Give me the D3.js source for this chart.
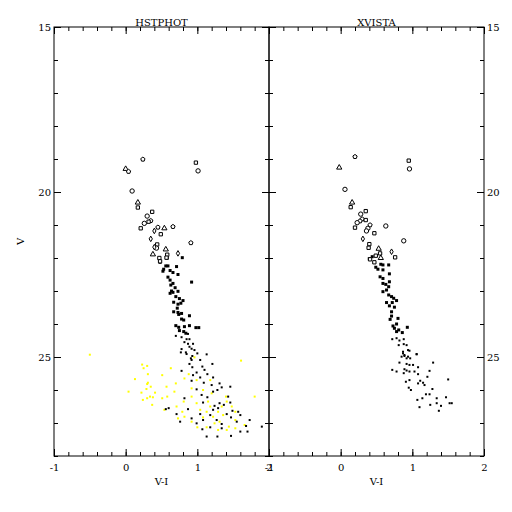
<!DOCTYPE html>
<html>
<head>
<meta charset="utf-8">
<script src="https://cdn.jsdelivr.net/npm/d3@7"></script>
<style>
  body { margin: 0; background: #fff; }
  text { font-family: "DejaVu Serif", "Liberation Serif", serif; font-size: 10px; fill: #000; }
</style>
</head>
<body>
<svg id="chart" width="512" height="512"></svg>
<script>
'use strict';

// panel titles and tick labels
const panelTitles = ['HSTPHOT', 'XVISTA'];
const xTicks = [-1, 0, 1, 2];
const yTicks = [15, 20, 25];

// HSTPHOT: bright stars with open symbols [V-I, V, symbol]
const hstOpen = [
  [0.24, 19.01, 'p'], [0.98, 19.11, 's'], [1.01, 19.36, 'o'], [0.0, 19.3, 't'], [0.04, 19.38, 'p'],
  [0.09, 19.97, 'o'], [0.17, 20.32, 't'], [0.17, 20.47, 's'], [0.37, 20.6, 's'], [0.30, 20.73, 'o'],
  [0.35, 20.87, 'p'], [0.26, 20.95, 'o'], [0.32, 20.9, 's'], [0.21, 21.1, 's'], [0.45, 21.07, 'p'],
  [0.54, 21.1, 't'], [0.66, 21.05, 'p'], [0.40, 21.18, 'd'], [0.49, 21.28, 's'], [0.35, 21.42, 'd'],
  [0.91, 21.54, 'p'], [0.44, 21.59, 's'], [0.43, 21.7, 'o'], [0.40, 21.67, 'd'], [0.56, 21.74, 't'],
  [0.73, 21.86, 'd'], [0.58, 21.9, 's'], [0.38, 21.89, 't'], [0.47, 22.0, 's'], [0.57, 21.99, 's'],
  [0.48, 22.1, 's']
];

// HSTPHOT: faint stars as dots [V-I, V]
const hstDots = [
  [0.79, 21.99], [0.58, 22.0], [0.48, 22.13], [0.59, 22.24], [0.56, 22.24], [0.71, 22.26],
  [0.53, 22.34], [0.52, 22.4], [0.62, 22.38], [0.66, 22.44], [0.73, 22.5], [0.59, 22.58],
  [0.62, 22.67], [0.92, 22.73], [0.66, 22.77], [0.63, 22.82], [0.69, 22.9], [0.64, 23.0],
  [0.66, 23.04], [0.73, 23.01], [0.62, 23.07], [0.70, 23.17], [0.75, 23.23], [0.80, 23.29],
  [0.67, 23.34], [0.73, 23.4], [0.77, 23.37], [0.72, 23.52], [0.67, 23.63], [0.73, 23.65],
  [0.78, 23.68], [0.74, 23.71], [0.89, 23.75], [0.78, 23.85], [0.81, 23.88], [0.70, 24.05],
  [0.74, 24.1], [0.82, 24.08], [0.89, 24.05], [0.98, 24.11], [1.02, 24.11], [0.75, 24.2],
  [0.81, 24.23], [0.84, 24.28], [0.87, 24.3], [0.70, 24.36], [0.78, 24.4], [0.85, 24.46],
  [0.89, 24.46], [0.82, 24.55], [0.94, 24.6], [0.87, 24.6], [0.89, 24.69], [0.92, 24.75],
  [0.96, 24.79], [0.84, 24.86], [0.77, 24.86], [1.0, 24.89], [1.13, 24.92], [0.93, 24.97],
  [0.91, 25.04], [0.78, 24.76], [0.85, 24.91], [0.92, 25.09], [1.04, 25.09], [0.89, 25.21],
  [1.07, 25.29], [0.93, 25.31], [1.21, 25.21], [1.1, 25.39], [0.78, 25.42], [0.99, 25.47],
  [1.14, 25.52], [0.94, 25.55], [1.22, 25.62], [1.04, 25.62], [0.92, 25.72], [1.09, 25.78],
  [1.2, 25.85], [1.31, 25.8], [1.34, 25.92], [1.46, 25.9], [0.99, 25.98], [1.22, 26.05],
  [1.28, 26.0], [1.06, 26.15], [1.14, 26.22], [1.43, 26.2], [0.82, 26.25], [1.08, 26.38],
  [1.31, 26.4], [1.37, 26.45], [1.46, 26.38], [1.24, 26.48], [0.56, 26.58], [0.6, 26.55],
  [0.87, 26.58], [1.22, 26.6], [1.29, 26.55], [1.49, 26.63], [1.57, 26.66], [0.71, 26.73],
  [1.04, 26.73], [1.18, 26.76], [1.41, 26.73], [1.6, 26.76], [1.47, 26.83], [0.92, 26.86],
  [1.08, 26.91], [1.27, 26.91], [1.73, 26.91], [0.76, 26.96], [1.55, 26.96], [0.99, 27.01],
  [1.34, 27.03], [1.68, 27.09], [1.18, 27.13], [1.9, 27.11], [1.07, 27.19], [1.34, 27.16],
  [1.6, 27.26], [1.7, 27.26], [1.13, 27.41], [1.28, 27.41], [1.47, 27.39]
];

// HSTPHOT: extra stars shown in yellow [V-I, V]
const hstYellow = [
  [-0.5, 24.93], [0.23, 25.23], [0.25, 25.34], [0.3, 25.27], [0.31, 25.52], [0.13, 25.67],
  [0.31, 25.78], [0.30, 25.82], [0.35, 25.9], [0.29, 25.97], [0.04, 26.05], [0.22, 26.08],
  [0.41, 26.08], [0.34, 26.2], [0.3, 26.25], [0.24, 26.3], [0.38, 26.22], [0.37, 26.45],
  [0.51, 25.55], [0.63, 25.34], [0.70, 25.8], [0.57, 25.9], [0.68, 26.05], [0.51, 26.25],
  [0.58, 26.2], [0.71, 26.5], [0.54, 26.6], [0.79, 26.66], [0.73, 26.86], [0.82, 26.81],
  [0.92, 26.96], [0.96, 25.01], [0.88, 25.52], [0.82, 25.65], [0.99, 25.7], [0.99, 26.4],
  [1.04, 26.6], [1.15, 26.35], [1.18, 26.5], [1.13, 26.66], [1.08, 26.83], [1.22, 26.81],
  [1.29, 26.66], [1.34, 26.5], [1.41, 26.35], [1.48, 26.5], [1.53, 26.66], [1.53, 26.91],
  [1.36, 26.76], [1.24, 27.01], [1.31, 26.96], [1.44, 27.11], [1.0, 27.13], [1.13, 27.13],
  [1.29, 27.21], [1.41, 27.21], [1.53, 27.16], [1.61, 25.11], [1.8, 26.2], [1.18, 25.7],
  [1.2, 26.1], [0.92, 26.2], [0.92, 25.95], [1.08, 26.0], [1.4, 26.2], [1.66, 27.06],
  [0.81, 26.35]
];

// XVISTA: bright stars with open symbols [V-I, V, symbol]
const xvOpen = [
  [0.2, 18.93, 'p'], [-0.02, 19.26, 't'], [0.95, 19.05, 's'], [0.96, 19.3, 'o'], [0.06, 19.92, 'o'],
  [0.16, 20.32, 't'], [0.14, 20.46, 's'], [0.35, 20.58, 's'], [0.28, 20.67, 'o'], [0.3, 20.82, 'p'],
  [0.35, 20.85, 's'], [0.27, 20.88, 'p'], [0.23, 20.93, 'o'], [0.2, 21.08, 's'], [0.41, 21.0, 'p'],
  [0.38, 21.1, 'o'], [0.36, 21.18, 'o'], [0.47, 21.25, 's'], [0.63, 21.03, 'o'], [0.31, 21.42, 'd'],
  [0.88, 21.48, 'o'], [0.4, 21.58, 's'], [0.39, 21.69, 's'], [0.53, 21.72, 't'], [0.71, 21.81, 'd'],
  [0.55, 21.86, 's'], [0.49, 21.93, 's'], [0.76, 21.98, 's'], [0.56, 22.0, 't'], [0.41, 22.04, 's'],
  [0.47, 22.13, 's']
];

// XVISTA: faint stars as dots [V-I, V]
const xvDots = [
  [0.44, 21.96], [0.4, 22.02], [0.56, 22.19], [0.59, 22.21], [0.67, 22.21], [0.49, 22.28],
  [0.52, 22.34], [0.59, 22.36], [0.68, 22.48], [0.55, 22.57], [0.59, 22.62], [0.68, 22.72],
  [0.59, 22.77], [0.63, 22.8], [0.67, 22.87], [0.64, 22.97], [0.59, 23.02], [0.67, 23.12],
  [0.71, 23.17], [0.74, 23.22], [0.64, 23.35], [0.72, 23.35], [0.78, 23.29], [0.68, 23.45],
  [0.75, 23.49], [0.71, 23.63], [0.71, 23.76], [0.69, 23.86], [0.8, 23.83], [0.78, 24.0],
  [0.73, 24.06], [0.75, 24.13], [0.93, 24.1], [0.78, 24.23], [0.81, 24.18], [0.86, 24.26],
  [0.72, 24.46], [0.78, 24.43], [0.82, 24.5], [0.88, 24.46], [0.81, 24.64], [0.88, 24.61],
  [0.92, 24.64], [0.87, 24.84], [0.94, 24.79], [1.06, 24.91], [0.85, 24.99], [0.89, 24.97],
  [0.92, 25.04], [0.97, 25.04], [0.96, 24.81], [0.87, 24.89], [0.89, 24.94], [1.06, 24.92],
  [0.94, 24.99], [0.82, 25.17], [0.92, 25.21], [0.96, 25.24], [1.01, 25.24], [1.29, 25.17],
  [0.72, 25.39], [0.78, 25.44], [0.89, 25.37], [0.92, 25.41], [0.96, 25.44], [1.03, 25.44],
  [1.08, 25.31], [1.24, 25.42], [0.88, 25.49], [1.08, 25.52], [1.21, 25.6], [0.96, 25.7],
  [0.91, 25.75], [1.11, 25.72], [1.15, 25.78], [1.17, 25.85], [1.08, 25.8], [0.95, 25.93],
  [0.98, 26.0], [1.5, 25.68], [1.28, 25.97], [1.19, 26.13], [1.24, 26.13], [1.14, 26.25],
  [1.07, 26.3], [1.34, 26.25], [1.47, 26.22], [1.34, 26.4], [1.52, 26.4], [1.55, 26.4],
  [1.25, 26.45], [1.1, 26.52], [1.4, 26.48], [1.37, 26.63]
];

const svg = d3.select('#chart');
const y = d3.scaleLinear().domain([15, 28]).range([27, 456]);
const xLeft = d3.scaleLinear().domain([-1, 2]).range([54, 269]);
const xRight = d3.scaleLinear().domain([-1, 2]).range([269, 484]);

// small pentagon symbol, like the plotting package draws
const pentagon = {
  draw(context, size) {
    const r = Math.sqrt(size / 2.4);
    for (let i = 0; i < 5; i++) {
      const a = -Math.PI / 2 + (i * 2 * Math.PI) / 5;
      const px = r * Math.cos(a), py = r * Math.sin(a);
      i === 0 ? context.moveTo(px, py) : context.lineTo(px, py);
    }
    context.closePath();
  },
};
const symbols = {
  o: [d3.symbolCircle, 15],
  s: [d3.symbolSquare, 11],
  t: [d3.symbolTriangle, 12],
  d: [d3.symbolDiamond, 9],
  p: [pentagon, 12],
};

function drawPanel(x, title, open, dots, yellow, labelSide) {
  const g = svg.append('g');
  const minorX = d3.range(-1, 2.001, 0.2);
  const minorY = d3.range(15, 29, 1);

  // frame ticks (pointing inward on all four sides)
  const tick = (axis) => axis.tickFormat('').tickSizeOuter(0);
  g.append('g').attr('transform', `translate(0,${y(28)})`)
    .call(tick(d3.axisBottom(x).tickValues(minorX).tickSize(-4)));
  g.append('g').attr('transform', `translate(0,${y(28)})`)
    .call(d3.axisBottom(x).tickValues(xTicks).tickSize(-7).tickSizeOuter(0)
      .tickPadding(8).tickFormat(d3.format('d')));
  g.append('g').attr('transform', `translate(0,${y(15)})`)
    .call(tick(d3.axisTop(x).tickValues(minorX).tickSize(-4)));
  g.append('g').attr('transform', `translate(0,${y(15)})`)
    .call(tick(d3.axisTop(x).tickValues(xTicks).tickSize(-7)));

  const x0 = x.range()[0], x1 = x.range()[1];
  g.append('g').attr('transform', `translate(${x0},0)`)
    .call(tick(d3.axisLeft(y).tickValues(minorY).tickSize(-4)));
  g.append('g').attr('transform', `translate(${x0},0)`)
    .call(d3.axisLeft(y).tickValues(yTicks).tickSize(-7).tickSizeOuter(0)
      .tickFormat(labelSide === 'left' ? d3.format('d') : ''));
  g.append('g').attr('transform', `translate(${x1},0)`)
    .call(tick(d3.axisRight(y).tickValues(minorY).tickSize(-4)));
  g.append('g').attr('transform', `translate(${x1},0)`)
    .call(d3.axisRight(y).tickValues(yTicks).tickSize(-7).tickSizeOuter(0)
      .tickFormat(labelSide === 'right' ? d3.format('d') : ''));

  g.selectAll('.domain').remove();
  g.selectAll('.tick line').attr('stroke', '#000');
  g.selectAll('.tick text').attr('fill', '#000')
    .style('font-family', '"DejaVu Serif", serif').style('font-size', '10px');
  g.selectAll('.tick text').text(function () {
    return d3.select(this).text().replace('−', '-');
  });

  g.append('rect')
    .attr('x', x0).attr('y', y(15))
    .attr('width', x1 - x0).attr('height', y(28) - y(15))
    .attr('fill', 'none').attr('stroke', '#000').attr('stroke-width', 1);

  g.append('text')
    .attr('x', (x0 + x1) / 2).attr('y', y(15) - 1)
    .attr('text-anchor', 'middle')
    .text(title);
  g.append('text')
    .attr('x', (x0 + x1) / 2).attr('y', 485)
    .attr('text-anchor', 'middle')
    .text('V-I');

  // yellow stars (drawn under the black ones)
  g.append('g').selectAll('rect').data(yellow).enter().append('rect')
    .attr('x', (d) => x(d[0]) - 1).attr('y', (d) => y(d[1]) - 1)
    .attr('width', 2).attr('height', 2)
    .attr('fill', '#ffff00');

  // faint stars as dots, brighter ones a bit larger
  g.append('g').selectAll('rect').data(dots).enter().append('rect')
    .attr('x', (d) => x(d[0]) - (d[1] < 24.3 ? 1.5 : 1))
    .attr('y', (d) => y(d[1]) - (d[1] < 24.3 ? 1.5 : 1))
    .attr('width', (d) => (d[1] < 24.3 ? 3 : 2))
    .attr('height', (d) => (d[1] < 24.3 ? 3 : 2))
    .attr('fill', '#000');

  // bright stars with open symbols
  g.append('g').selectAll('path').data(open).enter().append('path')
    .attr('transform', (d) => `translate(${x(d[0])},${y(d[1])})`)
    .attr('d', (d) => d3.symbol().type(symbols[d[2]][0]).size(symbols[d[2]][1])())
    .attr('fill', '#fff').attr('stroke', '#000').attr('stroke-width', 1);
}

drawPanel(xLeft, panelTitles[0], hstOpen, hstDots, hstYellow, 'left');
drawPanel(xRight, panelTitles[1], xvOpen, xvDots, [], 'right');

svg.append('text')
  .attr('transform', `translate(24,${y(21.5)}) rotate(-90)`)
  .attr('text-anchor', 'middle')
  .text('V');
</script>
</body>
</html>
